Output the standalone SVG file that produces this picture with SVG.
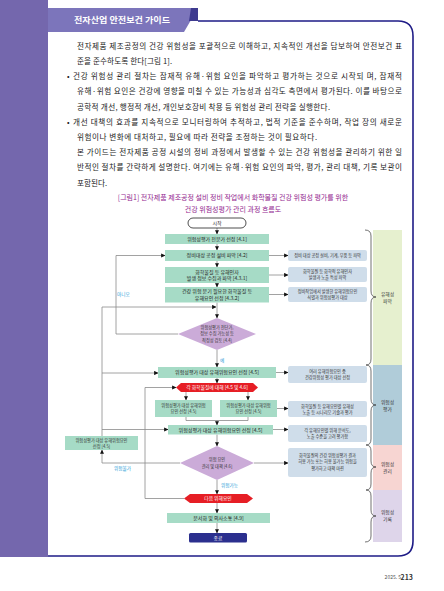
<svg xmlns="http://www.w3.org/2000/svg" width="444" height="591" viewBox="0 0 444 591">
<defs>
<marker id="ah" viewBox="0 0 6 6" refX="5.5" refY="3" markerWidth="4.2" markerHeight="4.2" markerUnits="userSpaceOnUse" orient="auto"><path d="M0,0 L6,3 L0,6 z" fill="#111"/></marker>
</defs>
<style>
text{font-family:"Noto Sans CJK KR","Noto Sans",sans-serif}
.body{font-size:7.6px;fill:#222}
.cap{font-size:7px;fill:#93278F;text-anchor:middle}
.t5{font-size:5px;fill:#222;text-anchor:middle}
.t4{font-size:4.2px;fill:#333;text-anchor:middle}
.tw{font-size:4.8px;fill:#fff;text-anchor:middle}
.lbl{font-size:4.6px;fill:#1E9AD6}
.pl{font-size:4.8px;fill:#333;text-anchor:middle}
.gb{fill:#A6DBC6}
.gr{fill:#CFDDEA}
.dm{fill:#CBABD8}
.rd{fill:#E61E25}
.ln{fill:none;stroke:#8a8a8a;stroke-width:0.8}
.ar{fill:none;stroke:#8a8a8a;stroke-width:0.8;marker-end:url(#ah)}
.brace{fill:none;stroke:#333;stroke-width:0.7}
</style>
<rect width="444" height="591" fill="#fff"/>
<!-- page decoration -->
<rect x="0" y="0" width="48" height="557" fill="#7467AD"/>
<polygon points="48,8 198,8 184,32 48,32" fill="#7C75BB"/>
<polygon points="191,8 198,8 198,21 189,21" fill="#3E3A8F"/>
<path d="M198,21 L398,21 Q413,21 413,36 L413,541 Q413,556 398,556 L48,556" fill="none" stroke="#1E1B86" stroke-width="1.6"/>
<text x="74" y="23" font-size="8.3" font-weight="bold" fill="#fff" textLength="96" lengthAdjust="spacingAndGlyphs">전자산업  안전보건 가이드</text>
<!-- body text -->
<text class="body" x="77" y="48.7" textLength="325" lengthAdjust="spacing">전자제품 제조공정의 건강 위험성을 포괄적으로 이해하고, 지속적인 개선을 담보하여 안전보건 표</text>
<text class="body" x="77" y="63.9" textLength="95" lengthAdjust="spacing">준을 준수하도록 한다[그림 1].</text>
<text class="body" x="67" y="79.1">•</text>
<text class="body" x="73" y="79.1" textLength="329" lengthAdjust="spacing">건강 위험성 관리 절차는 잠재적 유해·위험 요인을 파악하고 평가하는 것으로 시작되 며, 잠재적</text>
<text class="body" x="77" y="94.3" textLength="325" lengthAdjust="spacing">유해·위험 요인은 건강에 영향을 미칠 수 있는 가능성과 심각도 측면에서 평가된다. 이를 바탕으로</text>
<text class="body" x="77" y="109.5" textLength="253" lengthAdjust="spacing">공학적 개선, 행정적 개선, 개인보호장비 착용 등 위험성 관리 전략을 실행한다.</text>
<text class="body" x="67" y="124.7">•</text>
<text class="body" x="73" y="124.7" textLength="329" lengthAdjust="spacing">개선 대책의 효과를 지속적으로 모니터링하여 추적하고, 법적 기준을 준수하며, 작업 장의 새로운</text>
<text class="body" x="77" y="139.9" textLength="240" lengthAdjust="spacing">위험이나 변화에 대처하고, 필요에 따라 전략을 조정하는 것이 필요하다.</text>
<text class="body" x="77" y="155.1" textLength="325" lengthAdjust="spacing">본 가이드는 전자제품 공정 시설의 정비 과정에서 발생할 수 있는 건강 위험성을 관리하기 위한 일</text>
<text class="body" x="77" y="170.3" textLength="325" lengthAdjust="spacing">반적인 절차를 간략하게 설명한다. 여기에는 유해·위험 요인의 파악, 평가, 관리 대책, 기록 보관이</text>
<text class="body" x="77" y="185.5">포함된다.</text>
<!-- caption -->
<text class="cap" x="233" y="199.5">[그림1] 전자제품 제조공정 설비 정비 작업에서 화학물질 건강 위험성 평가를 위한</text>
<text class="cap" x="233" y="211.5">건강 위험성평가 관리 과정 흐름도</text>
<!-- side panels -->
<g id="panel-identify"><rect x="373" y="230" width="29" height="135" fill="#E6F0CF"/><text class="pl" x="387.5" y="296">유해성</text><text class="pl" x="387.5" y="303">파악</text></g>
<g id="panel-assess"><rect x="373" y="365" width="29" height="80" fill="#B0CCD9"/><text class="pl" x="387.5" y="404">위험성</text><text class="pl" x="387.5" y="411">평가</text></g>
<g id="panel-manage"><rect x="373" y="445" width="29" height="45" fill="#F7D5D2"/><text class="pl" x="387.5" y="466">위험성</text><text class="pl" x="387.5" y="473">관리</text></g>
<g id="panel-record"><rect x="373" y="490" width="29" height="52" fill="#DED5EA"/><text class="pl" x="387.5" y="514">위험성</text><text class="pl" x="387.5" y="521">기록</text></g>
<g id="braces">
<path class="brace" d="M365,230 Q371,230 371,236 L371,291 Q371,297 376,297 Q371,297 371,303 L371,359 Q371,365 366,365"/>
<path class="brace" d="M366,365 Q371,365 371,371 L371,399 Q371,405 376,405 Q371,405 371,411 L371,439 Q371,445 366,445"/>
<path class="brace" d="M366,445 Q371,445 371,451 L371,461 Q371,467 376,467 Q371,467 371,473 L371,484 Q371,490 366,490"/>
<path class="brace" d="M366,490 Q371,490 371,496 L371,510 Q371,516 376,516 Q371,516 371,522 L371,536 Q371,542 365,542"/>
</g>
<!-- connectors -->
<g id="connectors">
<line class="ar" x1="217" y1="228" x2="217" y2="234"/>
<line class="ar" x1="217" y1="244" x2="217" y2="250"/>
<line class="ar" x1="217" y1="261" x2="217" y2="267"/>
<line class="ar" x1="217" y1="283" x2="217" y2="287"/>
<line class="ar" x1="217" y1="302.5" x2="217" y2="318"/>
<path class="ar" d="M102,436 L102,307 L216,307"/>
<path class="ar" d="M102,373 L158,373"/>
<path class="ar" d="M102,429.5 L168,429.5"/>
<path class="ar" d="M178,334 L116,334 L116,255.5 L165,255.5"/>
<line class="ar" x1="217" y1="350" x2="217" y2="367"/>
<line class="ar" x1="217" y1="378" x2="217" y2="383"/>
<line class="ar" x1="186" y1="392" x2="186" y2="400"/>
<line class="ar" x1="248" y1="392" x2="248" y2="400"/>
<path class="ln" d="M186,417 L186,420.5 L248,420.5 L248,417"/>
<line class="ar" x1="217" y1="420.5" x2="217" y2="425"/>
<line class="ar" x1="217" y1="434.5" x2="217" y2="446"/>
<path class="ar" d="M180,463 L102,463 L102,450"/>
<line class="ar" x1="217" y1="480" x2="217" y2="494"/>
<path class="ar" d="M184,498.5 L145,498.5 L145,387.5 L176,387.5"/>
<line class="ar" x1="217" y1="503" x2="217" y2="513"/>
<line class="ar" x1="217" y1="523" x2="217" y2="533"/>
<line class="ar" x1="269" y1="255.5" x2="288" y2="255.5"/>
<line class="ar" x1="269" y1="275" x2="288" y2="275"/>
<line class="ar" x1="269" y1="294.5" x2="288" y2="294.5"/>
<line class="ar" x1="276" y1="372.5" x2="288" y2="372.5"/>
<line class="ar" x1="277" y1="408.5" x2="288" y2="408.5"/>
<line class="ar" x1="273" y1="429.5" x2="288" y2="429.5"/>
<line class="ar" x1="254" y1="463" x2="288" y2="463"/>
<text class="lbl" x="117" y="295.5">아니오</text>
<text class="lbl" x="220" y="361.5">예</text>
<text class="lbl" x="114" y="469.5">위험불가</text>
<text class="lbl" x="221" y="487">위험가능</text>
</g>
<!-- nodes -->
<g id="start"><rect x="188" y="218" width="58" height="10" rx="5" fill="#fff" stroke="#222" stroke-width="0.8"/><text class="t5" x="217" y="224.8">시작</text></g>
<g id="n41"><rect class="gb" x="165" y="234" width="104" height="10"/><text class="t5" x="217" y="240.8">위험성평가 전문가 선정 [4.1]</text></g>
<g id="n42"><rect class="gb" x="165" y="250" width="104" height="11"/><text class="t5" x="217" y="257.3">정비대상 공정 설비 파악 [4.2]</text></g>
<g id="n431"><rect class="gb" x="165" y="267" width="104" height="16"/><text class="t5" x="217" y="273.6">화학물질 등 유해인자</text><text class="t5" x="217" y="280">발생 정보 수집과 파악 [4.3.1]</text></g>
<g id="n432"><rect class="gb" x="165" y="287" width="104" height="15.5"/><text class="t5" x="217" y="293.4">건강 위험 분기 필요한 화학물질 등</text><text class="t5" x="217" y="299.8">유해요인 선정 [4.3.2]</text></g>
<g id="d44"><polygon class="dm" points="217,318 256,334 217,350 178,334"/><text class="t4" x="217" y="329">위험성평가 전단가,</text><text class="t4" x="217" y="335.3">정보 수집 가능성 등</text><text class="t4" x="217" y="341.6">적정성 검토 [4.4]</text></g>
<g id="n45a"><rect class="gb" x="158" y="367" width="118" height="11"/><text class="t5" x="217" y="374.3">위험성평가 대상 유해위험요인 선정 [4.5]</text></g>
<g id="each"><polygon class="rd" points="176,387.5 181,383 253,383 258,387.5 253,392 181,392"/><text class="tw" x="217" y="389.3">각 화학물질에 대해 [4.5 및 4.6]</text></g>
<g id="n45b"><rect class="gb" x="155" y="400" width="57" height="17"/><text class="t4" x="183.5" y="407">위험성평가 대상 유해위험</text><text class="t4" x="183.5" y="413.2">요인 선정 [4.5]</text></g>
<g id="n45c"><rect class="gb" x="220" y="400" width="57" height="17"/><text class="t4" x="248.5" y="407">위험성평가 대상 유해위험</text><text class="t4" x="248.5" y="413.2">요인 선정 [4.5]</text></g>
<g id="n45d"><rect class="gb" x="168" y="425" width="105" height="9.5"/><text class="t5" x="220.5" y="431.5">위험성평가 대상 유해위험요인 선정 [4.5]</text></g>
<g id="n45e"><rect class="gb" x="65" y="436" width="73" height="14"/><text class="t4" x="101.5" y="442">위험성평가 대상 유해위험요인</text><text class="t4" x="101.5" y="447.8">선정 [4.5]</text></g>
<g id="d46"><polygon class="dm" points="217,446 254,463 217,480 180,463"/><text class="t4" x="217" y="461">위험 요인</text><text class="t4" x="217" y="467.5">관리 및 대책 [4.6]</text></g>
<g id="next"><polygon class="rd" points="184,498.5 190,494 247,494 253,498.5 247,503 190,503"/><text class="tw" x="218" y="500.3">다음 위해요인</text></g>
<g id="n49"><rect class="gb" x="167" y="513" width="103" height="10"/><text class="t5" x="218.5" y="519.8">문서화 및 의사소통 [4.9]</text></g>
<g id="end"><rect x="189" y="533" width="58" height="9.5" rx="1.5" fill="#2B2F8E"/><text class="tw" x="218" y="539.6">종료</text></g>
<!-- right notes -->
<g id="r1"><rect class="gr" x="288" y="250" width="79" height="11" rx="2"/><text class="t4" x="327.5" y="257">정비 대상 공정 설비, 기계, 부품 등 파악</text></g>
<g id="r2"><rect class="gr" x="288" y="267" width="79" height="15" rx="2"/><text class="t4" x="327.5" y="273.2">화학물질 등 화학적 유해인자</text><text class="t4" x="327.5" y="279.2">발생과 노출 특성 파악</text></g>
<g id="r3"><rect class="gr" x="288" y="287" width="79" height="15" rx="2"/><text class="t4" x="327.5" y="293.2">정비작업에서 발생한 유해위험요인</text><text class="t4" x="327.5" y="299.2">식별과 위험성평가 대상</text></g>
<g id="r4"><rect class="gr" x="288" y="366" width="79" height="17" rx="2"/><text class="t4" x="327.5" y="373">여러 유해위험요인 중</text><text class="t4" x="327.5" y="379.2">건강위험성 평가 대상 선정</text></g>
<g id="r5"><rect class="gr" x="288" y="401" width="79" height="16" rx="2"/><text class="t4" x="327.5" y="407.6">화학물질 등 유해요인별 유해성</text><text class="t4" x="327.5" y="413.6">노출 등 시나리오 기술과 평가</text></g>
<g id="r6"><rect class="gr" x="288" y="425" width="79" height="17" rx="2"/><text class="t4" x="327.5" y="431.8">각 유해요인별 위해 분석도,</text><text class="t4" x="327.5" y="438">노출 수준을 고려 평가함</text></g>
<g id="r7"><rect class="gr" x="288" y="448" width="79" height="29" rx="2"/><text class="t4" x="327.5" y="456.5">화학물질의 건강 위험성평가 결과</text><text class="t4" x="327.5" y="463">허용 가능 또는 허용 불가능 위험을</text><text class="t4" x="327.5" y="469.5">평가하고 대책 마련</text></g>
<!-- footer -->
<text x="401" y="579" font-size="5" fill="#555" text-anchor="end">2025. 5</text>
<text x="413" y="579.5" font-size="7" font-weight="bold" fill="#333" text-anchor="end">213</text>
</svg>
